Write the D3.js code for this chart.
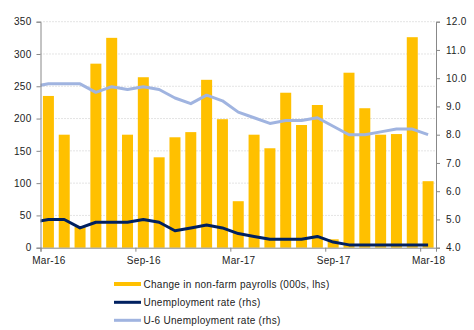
<!DOCTYPE html>
<html><head><meta charset="utf-8">
<script src="https://cdn.jsdelivr.net/npm/d3@7"></script>
<style>
body{margin:0;background:#fff;}
svg text{font-family:"Liberation Sans",Arial,sans-serif;font-size:10px;letter-spacing:0.28px;fill:#222;}
</style></head>
<body><svg id="c" width="474" height="330"></svg>
<script>
const months = ["Mar-16","Apr-16","May-16","Jun-16","Jul-16","Aug-16","Sep-16","Oct-16","Nov-16","Dec-16",
 "Jan-17","Feb-17","Mar-17","Apr-17","May-17","Jun-17","Jul-17","Aug-17","Sep-17","Oct-17","Nov-17","Dec-17",
 "Jan-18","Feb-18","Mar-18"];
const payrolls = [235,175,32,285,325,175,264,140,171,179,260,199,72,175,154,240,190,221,13,271,216,175,176,326,103];
// first value is Feb-16 (lead-in, clipped at the axis)
const unemployment = [4.9,5.0,5.0,4.7,4.9,4.9,4.9,5.0,4.9,4.6,4.7,4.8,4.7,4.5,4.4,4.3,4.3,4.3,4.4,4.2,4.1,4.1,4.1,4.1,4.1,4.1];
const u6 = [9.7,9.8,9.8,9.8,9.5,9.7,9.6,9.7,9.6,9.3,9.1,9.4,9.2,8.8,8.6,8.4,8.5,8.5,8.6,8.3,8.0,8.0,8.1,8.2,8.2,8.0];
const leftTicks = [0,50,100,150,200,250,300,350];
const rightTicks = [4,5,6,7,8,9,10,11,12];
const xLabels = ["Mar-16","Sep-16","Mar-17","Sep-17","Mar-18"];
const legendItems = ["Change in non-farm payrolls (000s, lhs)","Unemployment rate (rhs)","U-6 Unemployment rate (rhs)"];

const svg = d3.select("#c");
const L=40.5, R=436, T=21.7, B=247.7;
const xi = d3.scaleLinear().domain([0, months.length]).range([L, R]);
const yL = d3.scaleLinear().domain([0,350]).range([B,T]);
const yR = d3.scaleLinear().domain([4,12]).range([B,T]);
const step = xi(1)-xi(0);

// grid
svg.append("g").selectAll("line").data(leftTicks.slice(1)).join("line")
  .attr("x1",L).attr("x2",R).attr("y1",d=>yL(d)).attr("y2",d=>yL(d))
  .attr("stroke","#c8c8c8").attr("stroke-dasharray","1,2").attr("stroke-width",1);

// bars
svg.append("g").selectAll("rect").data(payrolls).join("rect")
  .attr("x",(d,i)=>xi(i+0.5)-5.5).attr("width",11)
  .attr("y",d=>yL(d)).attr("height",d=>B-yL(d)).attr("fill","#FFC000");

// lines
svg.append("defs").append("clipPath").attr("id","clip").append("rect")
  .attr("x",L).attr("y",0).attr("width",R-L).attr("height",330);
const line = d3.line().x((d,i)=>xi(i-0.5)).y(d=>yR(d));
const lg = svg.append("g").attr("clip-path","url(#clip)");
lg.append("path").datum(u6).attr("d",line).attr("fill","none").attr("stroke","#A0B4E0").attr("stroke-width",3).attr("stroke-linejoin","round");
lg.append("path").datum(unemployment).attr("d",line).attr("fill","none").attr("stroke","#002060").attr("stroke-width",3).attr("stroke-linejoin","round");

// axes
const axL = d3.axisLeft(yL).tickValues(leftTicks).tickSize(4).tickPadding(5);
const gL = svg.append("g").attr("transform",`translate(${L},0)`).call(axL);
const axR = d3.axisRight(yR).tickValues(rightTicks).tickSize(4).tickPadding(6).tickFormat(d3.format(".1f"));
const gR = svg.append("g").attr("transform",`translate(${R},0)`).call(axR);
const xTickIdx = xLabels.map(l=>months.indexOf(l));
const axB = d3.axisBottom(xi).tickValues(xTickIdx).tickSize(4).tickFormat(()=> "");
const gB = svg.append("g").attr("transform",`translate(0,${B})`).call(axB);
gB.selectAll(".tick").data(xTickIdx).append("text").attr("x",step/2).attr("y",16)
  .attr("text-anchor","middle").text((d)=>months[d]);
[gL,gR,gB].forEach(g=>{
  g.select(".domain").attr("stroke","#888");
  g.selectAll(".tick line").attr("stroke","#888");
  g.selectAll("text").attr("fill","#222").style("font-family","Liberation Sans, Arial, sans-serif").style("font-size","10px").style("letter-spacing","0.28px");
});

// legend
const legColors = ["#FFC000","#002060","#A0B4E0"];
const legY = [284,302.3,320.3];
const lgd = svg.append("g");
legendItems.forEach((t,i)=>{
  lgd.append("rect").attr("x",114).attr("y",legY[i]-(i===0?2:1.5)).attr("width",27).attr("height",i===0?4:3).attr("fill",legColors[i]);
  lgd.append("text").attr("x",143.5).attr("y",legY[i]+3.6).text(t);
});
</script></body></html>
